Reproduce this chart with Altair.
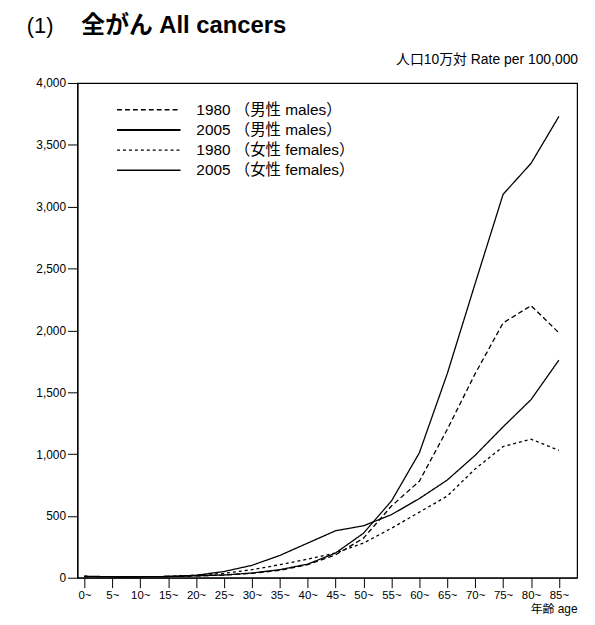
import altair as alt
import pandas as pd

ages = ["0~", "5~", "10~", "15~", "20~", "25~", "30~", "35~", "40~", "45~",
        "50~", "55~", "60~", "65~", "70~", "75~", "80~", "85~"]

series_names = ["1980 （男性 males）", "2005 （男性 males）",
                "1980 （女性 females）", "2005 （女性 females）"]

male_1980 = [10, 8, 8, 10, 15, 22, 35, 60, 105, 185, 320, 580, 780, 1200, 1650, 2060, 2200, 1980]
male_2005 = [12, 8, 8, 10, 15, 22, 38, 65, 110, 200, 360, 620, 1010, 1650, 2380, 3100, 3350, 3730]
female_1980 = [10, 8, 8, 10, 20, 35, 65, 105, 150, 200, 280, 400, 530, 660, 880, 1060, 1120, 1030]
female_2005 = [10, 8, 8, 10, 20, 50, 100, 180, 280, 380, 420, 510, 640, 790, 990, 1220, 1440, 1760]

title_num = "(1)"
title_text = "全がん All cancers"
rate_text = "人口10万対  Rate per 100,000"
x_title = "年齢 age"

rows = []
for name, vals in zip(series_names, [male_1980, male_2005, female_1980, female_2005]):
    for i, v in enumerate(vals):
        rows.append({"idx": i, "value": v, "series": name})
df = pd.DataFrame(rows)
legend_df = pd.DataFrame({"series": series_names, "row": list(range(len(series_names)))})

FONT = "Liberation Sans, Noto Sans CJK JP"
label_expr = "[" + ",".join("'" + a + "'" for a in ages) + "][datum.value]"

dash_scale = alt.Scale(domain=series_names, range=[[5, 3], [1, 0], [3, 3], [1, 0]])

lines = alt.Chart(df).mark_line(color="black", strokeWidth=1.3).encode(
    x=alt.X("idx:Q",
            scale=alt.Scale(domain=[-0.25, 17.65], nice=False, zero=False),
            axis=alt.Axis(values=list(range(len(ages))), labelExpr=label_expr,
                          title=x_title, titleAnchor="end", titleAlign="right",
                          titleFontSize=12, titleFontWeight="normal", titlePadding=3,
                          tickSize=10, labelPadding=2, labelFontSize=11.5,
                          grid=False, labelFlush=False)),
    y=alt.Y("value:Q",
            scale=alt.Scale(domain=[0, 4000], nice=False),
            axis=alt.Axis(values=list(range(0, 4001, 500)),
                          labelExpr="format(datum.value, ',.0f')",
                          title=None, grid=False, tickSize=10, labelPadding=2,
                          labelFontSize=12)),
    strokeDash=alt.StrokeDash("series:N", scale=dash_scale, legend=None),
)

leg_y = alt.Y("row:Q", scale=alt.Scale(domain=[0, 3], range=[27, 88], nice=False, zero=False),
              axis=None)

leg_rules = alt.Chart(legend_df).mark_rule(color="black").encode(
    x=alt.value(40), x2=alt.value(104), y=leg_y,
    strokeDash=alt.StrokeDash("series:N", scale=dash_scale, legend=None),
    strokeWidth=alt.condition(alt.datum.row == 1, alt.value(2), alt.value(1.3)),
)

leg_text = alt.Chart(legend_df).mark_text(
    align="left", baseline="middle", fontSize=15.5, font=FONT, color="black"
).encode(x=alt.value(120), y=leg_y, text="series:N")

rate = alt.Chart(pd.DataFrame({"t": [rate_text]})).mark_text(
    align="right", baseline="middle", fontSize=14, font=FONT, color="black"
).encode(x=alt.value(505), y=alt.value(-23), text="t:N")

num = alt.Chart(pd.DataFrame({"t": [title_num]})).mark_text(
    align="left", baseline="middle", fontSize=22, font=FONT, color="black"
).encode(x=alt.value(-51), y=alt.value(-57), text="t:N")

ttl = alt.Chart(pd.DataFrame({"t": [title_text]})).mark_text(
    align="left", baseline="middle", fontSize=24, fontWeight="bold", font=FONT, color="black"
).encode(x=alt.value(4), y=alt.value(-57), text="t:N")

chart = alt.layer(lines, leg_rules, leg_text, rate, num, ttl).resolve_scale(
    y="independent"
).properties(
    width=504, height=499,
    autosize=alt.AutoSizeParams(type="none"),
    padding={"left": 70, "top": 73, "right": 10, "bottom": 40},
).configure_view(stroke="black", strokeWidth=1.2).configure_axis(
    domainColor="black", tickColor="black", labelColor="black",
    titleColor="black", labelFont=FONT, titleFont=FONT, domainWidth=1.2
)

chart.save("out.html", embed_options={"renderer": "svg", "actions": False})
